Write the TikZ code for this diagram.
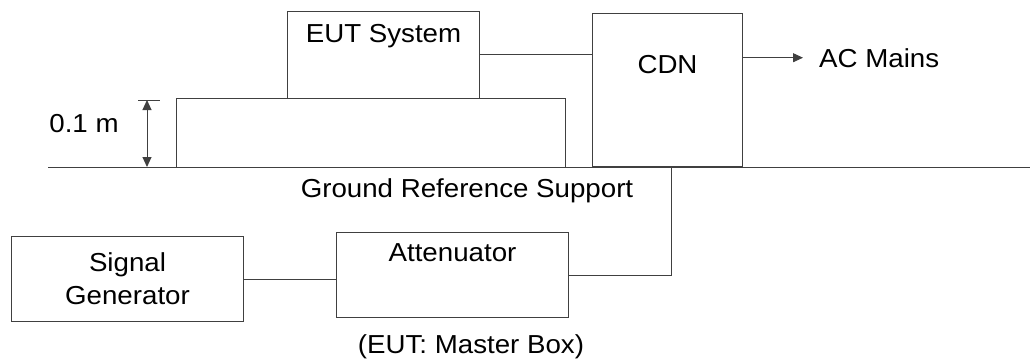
\documentclass[tikz,border=0pt]{standalone}
\usepackage{fontspec}
\setmainfont{Liberation Sans}[FakeStretch=1.065]
\usetikzlibrary{arrows.meta, positioning, calc}
\tikzset{
    box/.style = {rectangle, draw=black!75, line width=1pt, inner sep=0pt, anchor=north west},
    wire/.style = {draw=black!75, line width=1pt},
    lbl/.style = {inner sep=0pt, anchor=base},
    tip/.style = {-{Triangle[length=10pt,width=9pt]}}
    }

\begin{document}
\begin{tikzpicture}[
      x = 1pt, y = -1pt, % one unit per pixel, y down
      font = \fontsize{26}{33}\selectfont
    ]
    \useasboundingbox (0,0) rectangle (1030,361);

    \node[box, minimum width=192pt, text height=31pt, text depth=56pt] (eut) at (287,11) {EUT System};
    \node[box, minimum width=389pt, minimum height=69pt] (table) at (176,98) {};
    \node[box, minimum width=150pt, text height=60pt, text depth=93pt] (cdn) at (592,13) {CDN};
    \node[box, minimum width=232pt, minimum height=85pt, align=center] (siggen) at (11,236) {Signal\\Generator};
    \node[box, minimum width=232pt, text height=29pt, text depth=56pt] (att) at (336,232) {Attenuator};

    \node[lbl] (hgt) at (84,132) {0.1 m};
    \node[lbl, anchor=base west] (mains) at (819,67) {AC Mains};
    \node[lbl] (grs) at (467,197) {Ground Reference Support};
    \node[lbl] (note) at (471,353) {(EUT: Master Box)};

    % ground reference plane
    \coordinate (gl) at (48,167);
    \coordinate (gr) at (1030,167);
    \draw[wire] (gl) -- (gr);

    % height of the support
    \coordinate (dtop) at (147,100);
    \coordinate (dbot) at (147,167);
    \draw[wire] ($(dtop)+(-9,0)$) -- ($(dtop)+(13,0)$);
    \draw[wire, {Triangle[length=10pt,width=9pt]}-{Triangle[length=10pt,width=9pt]}] (dtop) -- (dbot);

    \draw[wire] (eut.east) -- (eut.east -| cdn.west);
    \draw[wire, tip] (cdn.east |- mains.west) -- ([xshift=-16pt]mains.west);
    \draw[wire] ([xshift=4pt]cdn.south) |- (att.east);
    \draw[wire] (siggen.east) -- (siggen.east -| att.west);
\end{tikzpicture}
\end{document}
